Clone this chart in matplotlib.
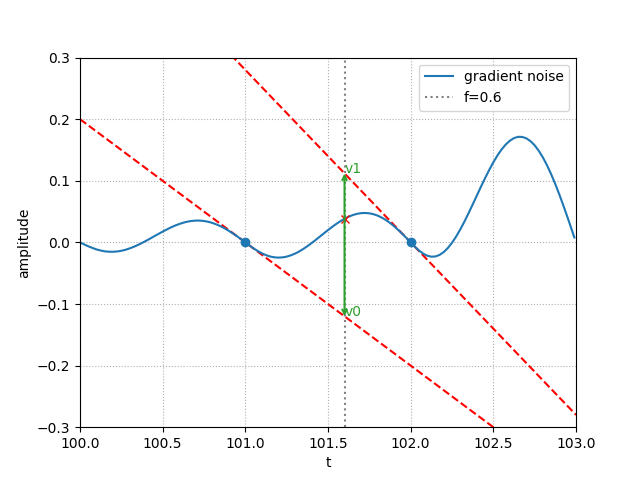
import numpy as np
import matplotlib
matplotlib.use("Agg")
import matplotlib.pyplot as plt

# lattice points and their gradients
lattice = [101.0, 102.0]
gradients = [-0.2, -0.28]
frac = 0.6
t_query = 101.6
v0 = -0.12
v1 = 0.112
noise_at_query = 0.038

# gradient noise curve, step 0.025 from 100 (last sample at 102.99)
noise_seg1 = [0.0, -0.0032, -0.0063, -0.0090, -0.0114, -0.0132, -0.0145, -0.0151, -0.0152, -0.0147,
              -0.0136, -0.0120, -0.0098, -0.0072, -0.0042, -0.0009, 0.0026, 0.0063, 0.0101, 0.0138,
              0.0175, 0.0210, 0.0243, 0.0273, 0.0298, 0.0320, 0.0337, 0.0348, 0.0354, 0.0354,
              0.0347, 0.0335, 0.0317, 0.0292, 0.0263, 0.0228, 0.0188, 0.0145, 0.0099, 0.0050]
noise_seg2 = [0.0, -0.0050, -0.0097, -0.0140, -0.0177, -0.0207, -0.0229, -0.0242, -0.0247, -0.0243,
              -0.0231, -0.0210, -0.0183, -0.0148, -0.0107, -0.0062, -0.0013, 0.0039, 0.0093, 0.0147,
              0.0200, 0.0251, 0.0300, 0.0344, 0.0384, 0.0417, 0.0444, 0.0463, 0.0475, 0.0478,
              0.0472, 0.0458, 0.0435, 0.0403, 0.0364, 0.0316, 0.0262, 0.0202, 0.0138, 0.0070]
noise_seg3 = [0.0, -0.0069, -0.0131, -0.0181, -0.0216, -0.0232, -0.0228, -0.0203, -0.0157, -0.0091,
              -0.0006, 0.0095, 0.0210, 0.0337, 0.0473, 0.0615, 0.0759, 0.0903, 0.1043, 0.1176,
              0.1300, 0.1412, 0.1509, 0.1589, 0.1651, 0.1693, 0.1714, 0.1712, 0.1689, 0.1643,
              0.1576, 0.1487, 0.1378, 0.1250, 0.1105, 0.0945, 0.0772, 0.0588, 0.0397, 0.0200,
              0.008]
noise = noise_seg1 + noise_seg2 + noise_seg3
t = list(np.round(np.arange(100, 103, 0.025), 3)) + [102.99]

fig, ax = plt.subplots()

# tangent lines given by the gradients
xs = np.array([100.0, 103.0])
for p, g in zip(lattice, gradients):
    ax.plot(xs, g * (xs - p), "r--")

ax.plot(t, noise, label="gradient noise")
ax.plot(lattice, [0, 0], "o", color="C0")

ax.axvline(t_query, color="gray", linestyle=":", label="f=%.1f" % frac)
ax.annotate("", xy=(t_query, v1), xytext=(t_query, v0),
            arrowprops=dict(arrowstyle="<->", color="C2", lw=1.5,
                            shrinkA=0, shrinkB=0, mutation_scale=8))
ax.text(t_query, v1, "v1", color="C2")
ax.text(t_query, v0, "v0", color="C2")
ax.plot(t_query, noise_at_query, "rx")

ax.set_xlim(100, 103)
ax.set_ylim(-0.3, 0.3)
ax.set_xlabel("t")
ax.set_ylabel("amplitude")
ax.grid(linestyle=":")
ax.legend(loc="upper right")
plt.savefig("out.png")
